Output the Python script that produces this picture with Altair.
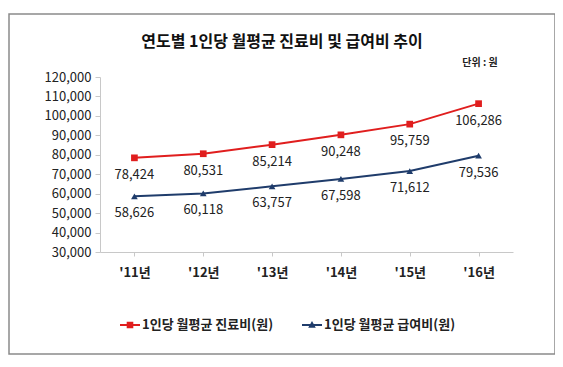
import altair as alt
import pandas as pd

years = ["'11년", "'12년", "'13년", "'14년", "'15년", "'16년"]
series_names = ["1인당 월평균 진료비(원)", "1인당 월평균 급여비(원)"]
medical = [78424, 80531, 85214, 90248, 95759, 106286]
benefit = [58626, 60118, 63757, 67598, 71612, 79536]
colors = ["#e01e1e", "#1f3c6b"]
title_text = "연도별 1인당 월평균 진료비 및 급여비 추이"
unit_text = "단위 : 원"

rows = []
for name, vals in zip(series_names, [medical, benefit]):
    for y, v in zip(years, vals):
        rows.append({"year": y, "series": name, "value": v})
df = pd.DataFrame(rows)

FONT = "Noto Sans CJK KR"

x_enc = alt.X("year:N", sort=years,
              scale=alt.Scale(paddingInner=0, paddingOuter=0),
              axis=alt.Axis(title=None, labelAngle=0, bandPosition=0,
                            labelFontWeight="bold", labelFontSize=13,
                            labelColor="#222", labelPadding=10,
                            domainColor="#c8c8c8", tickColor="#c8c8c8",
                            tickSize=4))
y_enc = alt.Y("value:Q",
              scale=alt.Scale(domain=[30000, 120000], nice=False),
              axis=alt.Axis(title=None, values=list(range(30000, 120001, 10000)),
                            format=",.0f", grid=False, labelFontSize=13,
                            labelColor="#222", labelPadding=4,
                            domainColor="#c8c8c8", tickColor="#c8c8c8",
                            tickSize=5))

sym_expr = ("datum.value == '" + series_names[0] + "' ? "
            "'M-1,-0.1H1V0.1H-1Z M-0.33,-0.33H0.33V0.33H-0.33Z' : "
            "'M-1,-0.1H1V0.1H-1Z M-0.38,0.28L0,-0.4L0.38,0.28Z'")

legend = alt.Legend(title=None, orient="none", direction="horizontal",
                    legendX=20, legendY=238, labelFontSize=13,
                    labelFontWeight="bold", labelColor="#222",
                    symbolType={"expr": sym_expr}, symbolSize=400,
                    symbolStrokeWidth=0, columnPadding=28, labelOffset=2)

color_scale = alt.Scale(domain=series_names, range=colors)
color_enc = alt.Color("series:N", sort=series_names, scale=color_scale, legend=legend)

base = alt.Chart(df)

line = base.mark_line(strokeWidth=2).encode(x=x_enc, y=y_enc, color=color_enc)

pts_red = base.transform_filter(alt.datum.series == series_names[0]).mark_point(
    shape="square", filled=True, size=45, opacity=1).encode(
    x=x_enc, y=y_enc, color=alt.Color("series:N", scale=color_scale, legend=None))
pts_blue = base.transform_filter(alt.datum.series == series_names[1]).mark_point(
    shape="triangle-up", filled=True, size=45, opacity=1).encode(
    x=x_enc, y=y_enc, color=alt.Color("series:N", scale=color_scale, legend=None))

labels = base.mark_text(dy=17, fontSize=13, color="#222", font=FONT).encode(
    x=x_enc, y=y_enc, text=alt.Text("value:Q", format=","))

title = alt.Chart(pd.DataFrame({"t": [title_text]})).mark_text(
    fontSize=16, fontWeight="bold", color="#111", font=FONT, baseline="middle").encode(
    x=alt.value(182), y=alt.value(-35), text="t:N")

unit = alt.Chart(pd.DataFrame({"t": [unit_text]})).mark_text(
    fontSize=10, fontWeight="bold", color="#222", font=FONT).encode(
    x=alt.value(380), y=alt.value(-14), text="t:N")

frame = alt.Chart(pd.DataFrame({"a": [0]})).mark_rect(
    fill="transparent", stroke="#8a8a8a", strokeWidth=1.5).encode(
    x=alt.value(-91), x2=alt.value(455), y=alt.value(-63), y2=alt.value(277))

chart = alt.layer(frame, line, pts_red, pts_blue, labels, title, unit).properties(
    width=413, height=175,
    padding={"left": 92, "top": 69, "right": 42, "bottom": 106},
    autosize=alt.AutoSizeParams(type="none"),
).configure(font=FONT).configure_view(stroke=None)

chart.save("out.html", embed_options={"renderer": "svg", "actions": False})
